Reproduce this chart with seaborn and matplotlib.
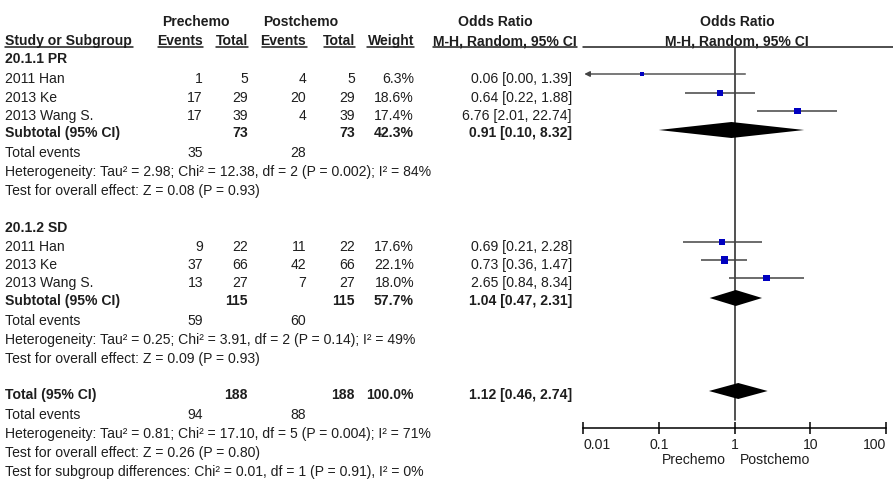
import numpy as np
import pandas as pd
import matplotlib
matplotlib.use("Agg")
import matplotlib.pyplot as plt
import seaborn as sns

# ---- data ----
studies = ["2011 Han", "2013 Ke", "2013 Wang S."]

pr_pre_events = [1, 17, 17]
pr_pre_total = [5, 29, 39]
pr_post_events = [4, 20, 4]
pr_post_total = [5, 29, 39]
pr_weight = [6.3, 18.6, 17.4]
pr_or = [0.06, 0.64, 6.76]
pr_lo = [0.00, 0.22, 2.01]
pr_hi = [1.39, 1.88, 22.74]

sd_pre_events = [9, 37, 13]
sd_pre_total = [22, 66, 27]
sd_post_events = [11, 42, 7]
sd_post_total = [22, 66, 27]
sd_weight = [17.6, 22.1, 18.0]
sd_or = [0.69, 0.73, 2.65]
sd_lo = [0.21, 0.36, 0.84]
sd_hi = [2.28, 1.47, 8.34]

# subtotal / total: pre_total, post_total, weight, or, lo, hi, pre_events, post_events
pr_sub = [73, 73, 42.3, 0.91, 0.10, 8.32, 35, 28]
sd_sub = [115, 115, 57.7, 1.04, 0.47, 2.31, 59, 60]
all_sub = [188, 188, 100.0, 1.12, 0.46, 2.74, 94, 88]

pr_het = "Heterogeneity: Tau\u00b2 = 2.98; Chi\u00b2 = 12.38, df = 2 (P = 0.002); I\u00b2 = 84%"
pr_test = "Test for overall effect: Z = 0.08 (P = 0.93)"
sd_het = "Heterogeneity: Tau\u00b2 = 0.25; Chi\u00b2 = 3.91, df = 2 (P = 0.14); I\u00b2 = 49%"
sd_test = "Test for overall effect: Z = 0.09 (P = 0.93)"
all_het = "Heterogeneity: Tau\u00b2 = 0.81; Chi\u00b2 = 17.10, df = 5 (P = 0.004); I\u00b2 = 71%"
all_test = "Test for overall effect: Z = 0.26 (P = 0.80)"
sub_test = "Test for subgroup differences: Chi\u00b2 = 0.01, df = 1 (P = 0.91), I\u00b2 = 0%"

axis_ticks = [0.01, 0.1, 1, 10, 100]
axis_labels = ["0.01", "0.1", "1", "10", "100"]

# ---- layout (pixel rows / columns) ----
W, H = 893, 480
FS = 10.1
TXT = "#1e1e1e"
col_x = [203, 248, 306, 355, 414, 572]   # right edges of numeric columns
pr_rows = [79, 98, 116]
sd_rows = [247, 265, 283]
MARK_SHIFT = -5   # plotted rows sit a bit above their text

sns.set_theme(style="white")
plt.rcParams["font.family"] = ["Liberation Sans", "DejaVu Sans"]

fig = plt.figure(figsize=(W / 100, H / 100), dpi=100)
tx = fig.add_axes([0, 0, 1, 1])
tx.set_xlim(0, W)
tx.set_ylim(H, 0)
tx.axis("off")


def put(x, y, s, ha="left", bold=False):
    tx.text(x, y, s, ha=ha, va="center", fontsize=FS, color=TXT,
            fontweight="bold" if bold else "normal")


# headers
put(196, 22, "Prechemo", ha="center", bold=True)
put(301, 22, "Postchemo", ha="center", bold=True)
put(495, 22, "Odds Ratio", ha="center", bold=True)
put(737, 22, "Odds Ratio", ha="center", bold=True)
put(5, 41, "Study or Subgroup", bold=True)
for x, s in zip(col_x[:5], ["Events", "Total", "Events", "Total", "Weight"]):
    put(x, 41, s, ha="right", bold=True)
put(505, 41, "M-H, Random, 95% CI", ha="center", bold=True)
put(737, 41, "M-H, Random, 95% CI", ha="center", bold=True)
for x0, x1 in [(5, 133), (158, 203), (216, 248), (262, 307), (324, 355),
               (367, 414), (433, 577), (583, 893)]:
    tx.plot([x0, x1], [47, 47], color=TXT, lw=1.1)


def study_rows(rows, pe, pt, qe, qt, w, orr, lo, hi):
    for i, y in enumerate(rows):
        put(5, y, studies[i])
        vals = [str(pe[i]), str(pt[i]), str(qe[i]), str(qt[i]), f"{w[i]:.1f}%",
                f"{orr[i]:.2f} [{lo[i]:.2f}, {hi[i]:.2f}]"]
        for x, s in zip(col_x, vals):
            put(x, y, s, ha="right")


def subtotal_rows(y, label, sub, het, test, ev_y):
    put(5, y, label, bold=True)
    put(col_x[1], y, str(sub[0]), ha="right", bold=True)
    put(col_x[3], y, str(sub[1]), ha="right", bold=True)
    put(col_x[4], y, f"{sub[2]:.1f}%", ha="right", bold=True)
    put(col_x[5], y, f"{sub[3]:.2f} [{sub[4]:.2f}, {sub[5]:.2f}]", ha="right", bold=True)
    put(5, ev_y, "Total events")
    put(col_x[0], ev_y, str(sub[6]), ha="right")
    put(col_x[2], ev_y, str(sub[7]), ha="right")
    put(5, ev_y + 19, het)
    put(5, ev_y + 38, test)


put(5, 59, "20.1.1 PR", bold=True)
study_rows(pr_rows, pr_pre_events, pr_pre_total, pr_post_events, pr_post_total,
           pr_weight, pr_or, pr_lo, pr_hi)
subtotal_rows(133, "Subtotal (95% CI)", pr_sub, pr_het, pr_test, ev_y=153)

put(5, 228, "20.1.2 SD", bold=True)
study_rows(sd_rows, sd_pre_events, sd_pre_total, sd_post_events, sd_post_total,
           sd_weight, sd_or, sd_lo, sd_hi)
subtotal_rows(301, "Subtotal (95% CI)", sd_sub, sd_het, sd_test, ev_y=321)

subtotal_rows(395, "Total (95% CI)", all_sub, all_het, all_test, ev_y=415)
put(5, 472, sub_test)

put(694, 460, "Prechemo", ha="center")
put(775, 460, "Postchemo", ha="center")

# ---- forest panel ----
x_left, x_right, y_top, y_axis = 583, 886, 47, 428
ax = fig.add_axes([x_left / W, (H - y_axis) / H, (x_right - x_left) / W,
                   (y_axis - y_top) / H])
ax.set_xscale("log")
ax.set_xlim(axis_ticks[0], axis_ticks[-1])
ax.set_ylim(y_axis, y_top)
ax.patch.set_alpha(0)
for side in ["top", "left", "right"]:
    ax.spines[side].set_visible(False)
ax.spines["bottom"].set_color("black")
ax.spines["bottom"].set_linewidth(1.1)
ax.set_xticks(axis_ticks)
ax.set_xticklabels(axis_labels)
ax.minorticks_off()
ax.tick_params(axis="x", direction="inout", length=9, width=1.1, color="black",
               labelsize=FS, labelcolor=TXT, pad=3, bottom=True)
ticklabels = ax.get_xticklabels()
ticklabels[0].set_horizontalalignment("left")
ticklabels[-1].set_horizontalalignment("right")
ax.set_yticks([])
ax.axvline(1, ymin=(y_axis - 420) / (y_axis - y_top), ymax=1, color="#333333", lw=1.2)

pts = pd.DataFrame({
    "or": pr_or + sd_or,
    "lo": pr_lo + sd_lo,
    "hi": pr_hi + sd_hi,
    "weight": pr_weight + sd_weight,
    "y": [y + MARK_SHIFT for y in pr_rows + sd_rows],
})
xmin = axis_ticks[0]
for _, r in pts.iterrows():
    if r["lo"] < xmin:
        ax.annotate("", xy=(xmin * 1.04, r["y"]), xytext=(r["hi"], r["y"]),
                    arrowprops=dict(arrowstyle="-|>", color="#444444", lw=1,
                                    mutation_scale=8, shrinkA=0, shrinkB=0))
    else:
        ax.hlines(r["y"], r["lo"], r["hi"], color="#444444", lw=1.1)

sns.scatterplot(data=pts, x="or", y="y", size="weight", sizes=(0, 120),
                size_norm=(0, 100), marker="s", color="#0000c0", linewidth=0,
                legend=False, ax=ax, zorder=3)
ax.set_xlabel("")
ax.set_ylabel("")

for y, sub in [(130, pr_sub), (298, sd_sub), (391, all_sub)]:
    orr, lo, hi = sub[3], sub[4], sub[5]
    ax.fill([lo, orr, hi, orr], [y, y - 8, y, y + 8], color="black", lw=0, zorder=4)

fig.savefig("out.png", dpi=100)
